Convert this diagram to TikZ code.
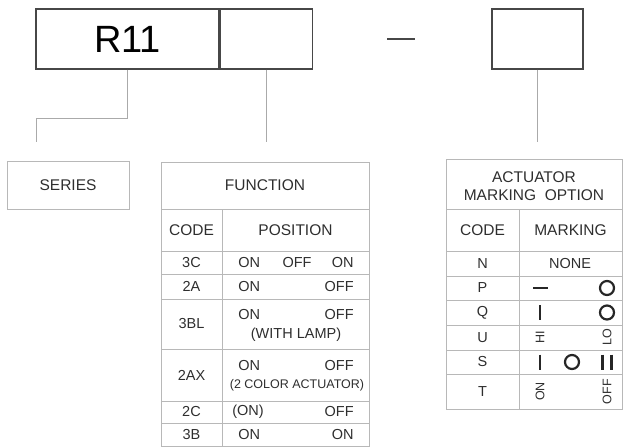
\documentclass[tikz,border=0pt]{standalone}
\usepackage{fontspec}
\setmainfont{Liberation Sans}
\usepackage{tikz}
\usetikzlibrary{positioning}

\definecolor{boxline}{HTML}{474747}
\definecolor{tabline}{HTML}{B8B8B8}
\definecolor{leadline}{HTML}{AAAAAA}
\definecolor{ink}{HTML}{2E2E2E}

\begin{document}
\begin{tikzpicture}[x=1pt,y=-1pt,semithick]
	
	\tikzstyle{topbox}=[draw=boxline,line width=1.4pt,minimum height=60pt,inner sep=0pt]
	\tikzstyle{lead}=[draw=leadline,line width=1pt]
	\tikzstyle{grid}=[draw=tabline,line width=1pt]
	\tikzstyle{head}=[text=ink,inner sep=0pt,font=\fontsize{15.5}{18}\selectfont]
	\tikzstyle{cell}=[text=ink,inner sep=0pt,font=\fontsize{14.5}{16}\selectfont]
	\tikzstyle{upright}=[text=ink,inner sep=0pt,rotate=90,font=\fontsize{12.5}{12}\selectfont]
	\tikzstyle{glyph}=[draw=black!85,line width=2.6pt]
	
	\useasboundingbox (0,0) rectangle (624,447);
	
	% part number boxes
	\node[topbox,minimum width=183pt,font=\fontsize{38}{38}\selectfont] (series) at (127.5,39) {R11};
	\node[topbox,minimum width=92pt,right=0pt of series] (func) {};
	\node[topbox,minimum width=91pt] (act) at (537.5,39) {};
	\draw[boxline,line width=1.6pt] (387,39) -- (415,39);
	
	% leader lines
	\coordinate (serEnd) at (36,142);
	\draw[lead] (series.south) -- ++(0,49) -| (serEnd);
	\draw[lead] (func.south) -- (func.south |- serEnd);
	\draw[lead] (act.south) -- (act.south |- serEnd);
	
	% series box
	\node[grid,head,minimum width=122pt,minimum height=48pt] (serLabel) at (68,185) {SERIES};
	
	% function table
	\draw[grid] (161,162) rectangle (369,446);
	\foreach \y in {209,251,274,299,349,401,423}
	\draw[grid] (161,\y) -- (369,\y);
	\draw[grid] (222,209) -- (222,446);
	
	\node[head] (funcHead) at (265,185.5) {FUNCTION};
	\node[head] (funcCode) at (191.5,230) {CODE};
	\node[head] (funcPos) at (295.5,230) {POSITION};
	\foreach \c/\y in {3C/262.5,2A/286.5,3BL/324,2AX/375,2C/412,3B/434.5}
	\node[cell] (code\c) at (191.5,\y) {\c};
	
	\node[cell,anchor=west] (on3C) at (238,262.5) {ON};
	\node[cell] (off3C) at (297,262.5) {OFF};
	\node[cell,anchor=east] (onb3C) at (354,262.5) {ON};
	\node[cell,anchor=west] (on2A) at (238,286.5) {ON};
	\node[cell,anchor=east] (off2A) at (354,286.5) {OFF};
	\node[cell,anchor=west] (on3BL) at (238,315) {ON};
	\node[cell,anchor=east] (off3BL) at (354,315) {OFF};
	\node[cell] (lamp3BL) at (296,335) {(WITH LAMP)};
	\node[cell,anchor=west] (on2AX) at (238,366) {ON};
	\node[cell,anchor=east] (off2AX) at (354,366) {OFF};
	\node[cell,font=\fontsize{12.5}{14}\selectfont] (col2AX) at (297,385) {(2 COLOR ACTUATOR)};
	\node[cell,anchor=west] (on2C) at (232,412) {(ON)};
	\node[cell,anchor=east] (off2C) at (354,412) {OFF};
	\node[cell,anchor=west] (on3B) at (238,434.5) {ON};
	\node[cell,anchor=east] (onb3B) at (354,434.5) {ON};
	
	% actuator marking table
	\draw[grid] (446,159) rectangle (622,409);
	\foreach \y in {209,251,276,300,325,350,374}
	\draw[grid] (446,\y) -- (622,\y);
	\draw[grid] (519,209) -- (519,409);
	
	\node[head,align=center] (actHead) at (534,186) {ACTUATOR\\MARKING\ \ OPTION};
	\node[head] (actCode) at (482.5,230) {CODE};
	\node[head] (actMark) at (570.5,230) {MARKING};
	\foreach \c/\y in {N/263.5,P/288,Q/312.5,U/337.5,S/362,T/391.5}
	\node[cell] (mark\c) at (482.5,\y) {\c};
	
	\node[cell] (none) at (570,263.5) {NONE};
	\draw[glyph] (533,288) -- (548,288);
	\draw[glyph,line width=2.2pt] (607,288) circle (7);
	\draw[glyph] (540,305) -- (540,320);
	\draw[glyph,line width=2.2pt] (607,312.5) circle (7);
	\node[upright] (hi) at (540,337.5) {HI};
	\node[upright] (lo) at (607,337.5) {LO};
	\draw[glyph] (540,354.5) -- (540,369.5);
	\draw[glyph,line width=2.2pt] (572,362) circle (7);
	\draw[glyph] (602.5,354.5) -- (602.5,369.5);
	\draw[glyph] (611.5,354.5) -- (611.5,369.5);
	\node[upright] (onT) at (540,391.5) {ON};
	\node[upright] (offT) at (607,391.5) {OFF};
	
\end{tikzpicture}
\end{document}
